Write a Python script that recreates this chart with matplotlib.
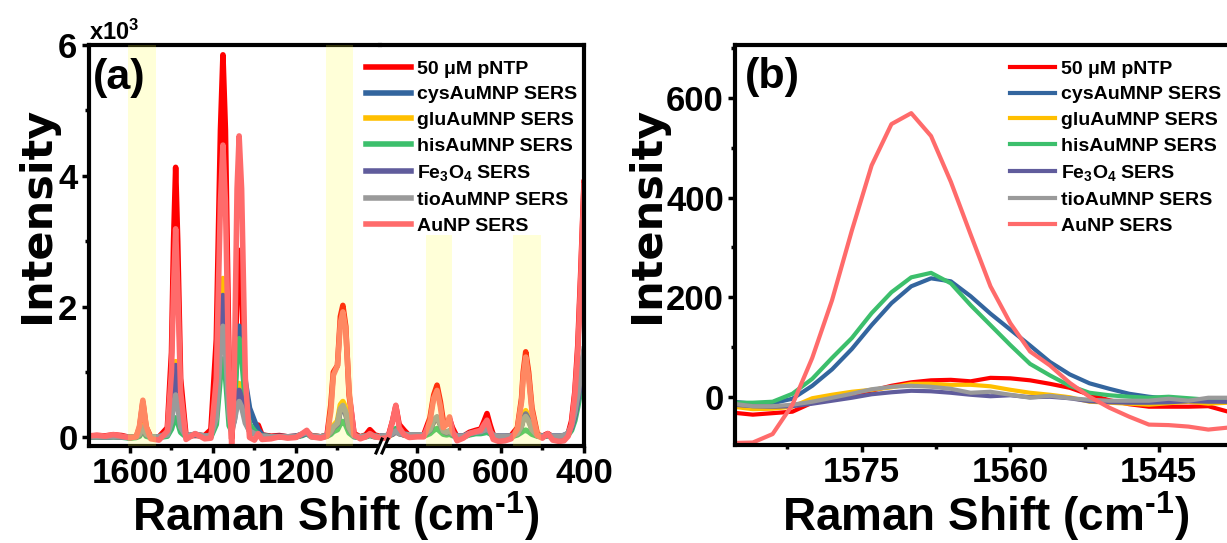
import matplotlib
matplotlib.use('Agg')
import matplotlib.pyplot as plt
from matplotlib.lines import Line2D

plt.rcParams['font.family'] = ['Liberation Sans', 'DejaVu Sans']
plt.rcParams['font.weight'] = 'bold'
plt.rcParams['mathtext.fontset'] = 'custom'
plt.rcParams['mathtext.bf'] = 'Liberation Sans:bold'
plt.rcParams['mathtext.rm'] = 'Liberation Sans:bold'
plt.rcParams['mathtext.default'] = 'bf'

# ---------------- data, panel (a): full spectra ----------------
shift_a = [1700, 1680, 1660, 1640, 1620, 1600, 1585, 1577, 1569, 1561,
           1550, 1530, 1510, 1500, 1495, 1490, 1485, 1478, 1465, 1443,
           1420, 1405, 1392, 1382, 1376, 1370, 1361, 1355, 1349, 1342,
           1337, 1331, 1322, 1312, 1300, 1291, 1282, 1260, 1240, 1220,
           1200, 1185, 1174, 1163, 1140, 1125, 1116, 1110, 1100, 1093,
           1087, 1080, 1072, 1060, 1045, 1032, 1022, 1010, 1000,
           890, 870, 860, 852, 844, 832, 820, 800, 785, 770,
           761, 753, 745, 738, 730, 723, 716, 705, 690, 675,
           660, 648, 640, 633, 626, 618, 605, 590, 575, 560,
           550, 546, 540, 533, 525, 512, 500, 487, 475, 460,
           448, 438, 430, 422, 415, 408, 400]

pntp_a = [20, 30, 25, 40, 30, 0, 10, 150, 540, 160,
          10, 10, 150, 1300, 3000, 4130, 3000, 900, 30, 30,
          30, 120, 1500, 4700, 5850, 4700, 1000, -20, 500, 2300,
          2860, 2300, 600, 150, 120, 190, 40, 20, 30, 10,
          20, 40, 90, 30, 10, 40, 500, 1000, 1100, 1850,
          2020, 1700, 650, 60, 10, 40, 120, 40, 20,
          10, 20, 250, 480, 200, 110, 30, 30, 40, 300,
          650, 800, 550, 250, 200, 280, 150, 10, 20, 80,
          110, 130, 250, 366, 200, 40, 10, 10, 30, 150,
          600, 1000, 1310, 1000, 450, 50, 20, 60, 10, 0,
          10, 60, 250, 700, 1400, 2500, 3900]
cys_a = [10, 15, 10, 20, 15, 0, 10, 40, 130, 40,
         10, 10, 60, 400, 800, 1100, 800, 250, 20, 50,
         20, 30, 400, 1700, 2150, 1700, 450, 200, 500, 1350,
         1700, 1450, 850, 450, 250, 120, 40, 10, 20, 10,
         20, 50, 80, 20, 10, 30, 80, 150, 200, 420,
         470, 380, 150, 20, 10, 20, 50, 20, 10,
         20, 30, 60, 110, 70, 50, 40, 40, 40, 120,
         250, 300, 200, 100, 80, 100, 60, 20, 20, 60,
         80, 90, 110, 130, 90, 30, 20, 20, 20, 60,
         200, 320, 390, 300, 140, 30, 20, 40, 20, 20,
         30, 60, 160, 350, 600, 900, 1300]
glu_a = [10, 15, 10, 15, 10, 0, 10, 50, 180, 50,
         10, 10, 60, 420, 880, 1160, 850, 270, 20, 40,
         20, 30, 450, 1900, 2430, 1900, 500, 150, 300, 680,
         825, 680, 280, 100, 60, 40, 20, 10, 10, 10,
         10, 40, 70, 20, 10, 30, 100, 180, 250, 500,
         550, 450, 170, 20, 10, 20, 40, 20, 10,
         10, 20, 50, 90, 60, 40, 30, 30, 30, 110,
         250, 300, 200, 100, 70, 90, 50, 10, 10, 50,
         70, 80, 100, 120, 80, 30, 10, 10, 20, 60,
         200, 320, 410, 310, 150, 30, 10, 30, 10, 10,
         20, 50, 140, 320, 560, 850, 1200]
his_a = [10, 10, 5, 10, 5, -10, 0, 20, 110, 20,
         0, 0, 20, 130, 240, 300, 230, 80, 10, 40,
         10, 10, 200, 950, 1200, 950, 180, 100, 450, 1250,
         1510, 1250, 550, 200, 100, 50, 20, 10, 10, 0,
         10, 30, 60, 10, 0, 20, 50, 90, 120, 210,
         245, 190, 70, 10, 0, 10, 30, 10, 10,
         10, 20, 80, 137, 70, 40, 20, 20, 20, 60,
         110, 137, 90, 50, 40, 50, 30, 10, 10, 40,
         60, 60, 70, 80, 60, 20, 10, 10, 10, 40,
         80, 100, 112, 90, 50, 20, 10, 30, 10, 10,
         10, 40, 110, 260, 470, 720, 1050]
fe_a = [10, 15, 10, 15, 10, 0, 10, 40, 150, 40,
        10, 10, 60, 400, 800, 1100, 800, 250, 20, 40,
        20, 30, 400, 1700, 2170, 1700, 450, 150, 250, 600,
        720, 600, 270, 100, 60, 40, 20, 10, 10, 10,
        10, 40, 70, 20, 10, 30, 80, 150, 200, 420,
        450, 360, 140, 20, 10, 20, 40, 20, 10,
        20, 30, 50, 90, 60, 40, 30, 30, 30, 110,
        250, 310, 200, 100, 70, 90, 50, 20, 20, 60,
        80, 90, 110, 130, 90, 30, 20, 20, 20, 60,
        180, 280, 360, 280, 130, 30, 20, 30, 20, 20,
        30, 60, 150, 330, 570, 860, 1250]
tio_a = [10, 15, 10, 15, 10, 0, 10, 50, 160, 50,
         10, 10, 40, 250, 500, 650, 480, 160, 20, 50,
         20, 30, 300, 1350, 1700, 1350, 350, 100, 250, 480,
         550, 470, 220, 100, 60, 40, 20, 10, 10, 10,
         10, 50, 80, 20, 10, 30, 90, 160, 220, 440,
         490, 390, 150, 20, 10, 20, 40, 20, 10,
         20, 30, 60, 100, 60, 50, 40, 40, 40, 120,
         270, 315, 210, 100, 80, 100, 60, 20, 20, 60,
         80, 90, 110, 130, 90, 30, 20, 20, 20, 60,
         180, 270, 320, 250, 120, 30, 20, 40, 20, 20,
         30, 70, 180, 380, 650, 950, 1350]
aunp_a = [25, 35, 20, 45, 20, -5, 10, 180, 570, 170,
          -20, -40, 100, 1000, 2300, 3190, 2300, 700, -30, 60,
          -20, -10, 900, 3600, 4470, 3600, 700, -100, 800, 3800,
          4610, 3800, 900, 0, -40, 60, -30, -20, 10, -10,
          0, 60, 110, 10, -10, 20, 400, 950, 1100, 1750,
          1920, 1650, 700, 40, -20, 10, 60, 10, 0,
          -20, 0, 250, 493, 150, 40, 0, 10, 10, 250,
          600, 720, 470, 150, 200, 315, 100, -50, -10, 60,
          90, 110, 200, 265, 120, -30, -60, -50, -20, 130,
          550, 920, 1230, 920, 400, 30, -10, 60, -40, -60,
          -50, 20, 200, 650, 1300, 2400, 3850]

# highlighted regions in panel (a): low / high wavenumber and top intensity
band_lo = [1537, 1062, 716, 504]
band_hi = [1605, 1128, 780, 570]
band_top = [6000, 6000, 3100, 3100]

# ---------------- data, panel (b): zoom on the 1572 band ----------------
shift_b = [1588, 1586, 1584, 1582, 1580, 1578, 1576, 1574, 1572, 1570,
           1568, 1566, 1564, 1562, 1560, 1558, 1556, 1554, 1552, 1550,
           1548, 1546, 1544, 1542, 1540, 1538]
pntp_b = [-32, -36, -33, -30, -12, -3, 5, 12, 22, 29,
          33, 34, 31, 38, 37, 33, 26, 18, 4, -7,
          -15, -20, -20, -20, -19, -30]
cys_b = [-10, -14, -13, -4, 22, 55, 96, 144, 188, 222,
         238, 232, 202, 167, 135, 103, 70, 45, 27, 16,
         6, 0, -4, -6, -8, -10]
glu_b = [-20, -25, -24, -20, -3, 4, 10, 14, 19, 26,
         26, 24, 24, 21, 14, 8, 4, -1, -10, -12,
         -14, -16, -13, -10, -14, -12]
his_b = [-12, -12, -10, 6, 36, 78, 118, 168, 210, 240,
         249, 228, 184, 144, 104, 66, 43, 22, 8, 3,
         0, -2, 0, -3, -6, -10]
fe_b = [-16, -19, -20, -19, -14, -8, -2, 5, 9, 12,
        11, 8, 4, 1, 3, -1, 0, -3, -9, -11,
        -12, -12, -11, -9, -10, -10]
tio_b = [-14, -19, -19, -16, -10, -2, 6, 15, 20, 22,
         20, 16, 8, 10, 4, -2, 2, -3, -6, -8,
         -8, -8, -4, -8, -2, -2]
aunp_b = [-93, -92, -75, -16, 78, 194, 334, 465, 548, 570,
          524, 432, 326, 222, 148, 91, 63, 28, 0, -22,
          -40, -56, -57, -60, -66, -62]

labels = ['50 μM pNTP', 'cysAuMNP SERS', 'gluAuMNP SERS', 'hisAuMNP SERS',
          'Fe$_3$O$_4$ SERS', 'tioAuMNP SERS', 'AuNP SERS']
colors = ['#FF0000', '#33659E', '#FFBF00', '#3CBF6C', '#605C9C', '#9A9A9A', '#FF6B6B']

W, H = 1227, 543
fig = plt.figure(figsize=(W / 100, H / 100), dpi=100)


def px_box(x0, y0, x1, y1):
    return [x0 / W, 1 - y1 / H, (x1 - x0) / W, (y1 - y0) / H]


tick_font = {'family': ['Liberation Sans'], 'weight': 'bold', 'size': 25}


def style_ticks(ax):
    ax.tick_params(which='major', direction='out', length=5, width=2.5, pad=3)
    ax.tick_params(which='minor', direction='out', length=3, width=2.5)
    for lab in ax.get_xticklabels() + ax.get_yticklabels():
        lab.set_fontproperties(tick_font)
    for sp in ax.spines.values():
        sp.set_linewidth(3)


def add_legend(ax, handles, x_px):
    ax.legend(handles=handles, loc='upper left', bbox_to_anchor=(x_px / W, 1 - 60 / H),
              bbox_transform=fig.transFigure, frameon=False, fontsize=14,
              handlelength=2.3, handletextpad=0.3, labelspacing=0.42,
              borderpad=0, borderaxespad=0)


# ---------------- panel (a): broken x axis ----------------
ax_l = fig.add_axes(px_box(88.5, 45, 380, 446))
ax_r = fig.add_axes(px_box(380, 45, 584, 446))
series_a = [pntp_a, cys_a, glu_a, his_a, fe_a, tio_a, aunp_a]
handles_a = []
for ax in (ax_l, ax_r):
    ax.set_facecolor('none')
    for ys, c, lab in zip(series_a, colors, labels):
        ln, = ax.plot(shift_a, ys, color=c, lw=4, label=lab, solid_joinstyle='round')
        if ax is ax_r:
            handles_a.append(ln)
    for lo, hi, top in zip(band_lo, band_hi, band_top):
        ax.fill_between([lo, hi], -130, top, color='#FFFF40', alpha=0.2, lw=0, zorder=5)
    ax.set_ylim(-130, 6000)

ax_l.set_xlim(1700, 997.5)
ax_r.set_xlim(890, 400)
ax_l.set_xticks([1600, 1400, 1200])
ax_l.set_xticks([1500, 1300, 1100], minor=True)
ax_r.set_xticks([800, 600, 400])
ax_r.set_xticks([700, 500], minor=True)
ax_l.set_yticks([0, 2000, 4000, 6000])
ax_l.set_yticklabels(['0', '2', '4', '6'])
ax_l.set_yticks([1000, 3000, 5000], minor=True)
ax_r.set_yticks([])
ax_r.set_yticks([], minor=True)
ax_l.spines['right'].set_visible(False)
ax_r.spines['left'].set_visible(False)
style_ticks(ax_l)
style_ticks(ax_r)
ax_l.spines['bottom'].set_bounds(1700, 1007)
ax_r.spines['bottom'].set_bounds(871, 400)

for x0 in (376, 382):
    fig.add_artist(Line2D([x0 / W, (x0 + 6) / W], [1 - 453 / H, 1 - 439 / H],
                          transform=fig.transFigure, color='black', lw=2.2))

add_legend(ax_r, handles_a, 366)

ax_l.text(0.016, 0.918, '(a)', transform=ax_l.transAxes, fontsize=31,
          fontweight='bold', ha='left', va='center', zorder=10)
fig.text(89 / W, 1 - 40 / H, r'x10$^{3}$', fontsize=17, fontweight='bold',
         ha='left', va='baseline')

# ---------------- panel (b) ----------------
ax_b = fig.add_axes(px_box(735, 45, 1238, 445))
series_b = [pntp_b, cys_b, glu_b, his_b, fe_b, tio_b, aunp_b]
handles_b = []
for ys, c, lab in zip(series_b, colors, labels):
    ln, = ax_b.plot(shift_b, ys, color=c, lw=3, label=lab)
    handles_b.append(ln)
ax_b.set_xlim(1587.8, 1537)
ax_b.set_ylim(-97, 707)
ax_b.set_xticks([1575, 1560, 1545])
ax_b.set_xticks([1582.5, 1567.5, 1552.5, 1537.5], minor=True)
ax_b.set_yticks([0, 200, 400, 600])
ax_b.set_yticks([100, 300, 500, 700], minor=True)
style_ticks(ax_b)
add_legend(ax_b, handles_b, 1010)
ax_b.text(0.02, 0.92, '(b)', transform=ax_b.transAxes, fontsize=31,
          fontweight='bold', ha='left', va='center', zorder=10)

# ---------------- axis titles ----------------
for xc in (336, 986):
    fig.text(xc / W, 1 - 531 / H, r'Raman Shift (cm$^{\text{-1}}$)', fontsize=33,
             fontweight='bold', ha='center', va='baseline')
for xc in (37, 647):
    fig.text(xc / W, 1 - 215 / H, 'Intensity', fontsize=31, fontweight='bold',
             family=['DejaVu Sans'], rotation=90, ha='center', va='center')

fig.savefig('out.png', dpi=100)
